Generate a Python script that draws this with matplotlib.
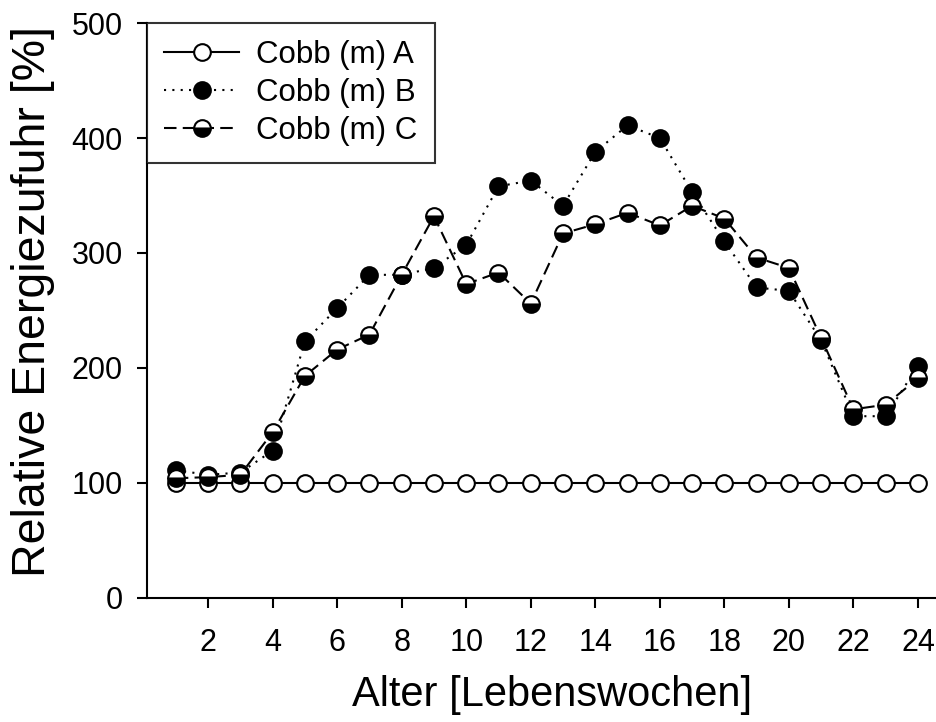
import matplotlib
matplotlib.use("Agg")
import matplotlib.pyplot as plt

plt.rcParams['font.family'] = ['Liberation Sans', 'DejaVu Sans']

weeks = list(range(1, 25))
cobb_a = [100] * 24
cobb_b = [111, 107, 109, 128, 223, 252, 281, 281, 287, 307, 358, 363,
          341, 388, 411, 400, 353, 310, 270, 267, 224, 158, 158, 202]
cobb_c = [104, 105, 107, 144, 193, 216, 229, 281, 332, 273, 283, 256,
          317, 325, 335, 324, 341, 330, 296, 287, 226, 164, 168, 191]

x_ticks = list(range(2, 25, 2))
y_ticks = [0, 100, 200, 300, 400, 500]

fig = plt.figure(figsize=(9.37, 7.22), dpi=100)
ax = fig.add_axes([0.157, 0.172, 0.843, 0.796])

ms = 12
mew = 1.5
lw = 1.5

ax.plot(weeks, cobb_a, color='black', lw=lw, linestyle='-',
        marker='o', ms=ms, mfc='white', mec='black', mew=mew,
        label='Cobb (m) A', zorder=3)
ax.plot(weeks, cobb_b, color='black', lw=lw, dashes=(1, 3),
        marker='o', ms=ms, mfc='black', mec='black', mew=mew,
        label='Cobb (m) B', zorder=4)
ax.plot(weeks, cobb_c, color='black', lw=lw, dashes=(6, 3),
        marker='o', ms=ms, mfc='black', mfcalt='white', fillstyle='bottom',
        mec='black', mew=mew, label='Cobb (m) C', zorder=5)

ax.set_xlim(0.11, 24.59)
ax.set_ylim(0, 500)
ax.set_xticks(x_ticks)
ax.set_yticks(y_ticks)

for side in ('top', 'right'):
    ax.spines[side].set_visible(False)
for side in ('left', 'bottom'):
    ax.spines[side].set_linewidth(1.5)

ax.tick_params(axis='both', direction='out', length=7.5, width=1.5,
               labelsize=22)
ax.tick_params(axis='x', pad=14)
ax.tick_params(axis='y', pad=10)

ax.set_xlabel('Alter [Lebenswochen]', fontsize=30)
ax.xaxis.set_label_coords(0.513, -0.135)
ax.set_ylabel('Relative Energiezufuhr [%]', fontsize=33.5)
ax.yaxis.set_label_coords(-0.117, 0.515)

leg = ax.legend(loc='upper left', bbox_to_anchor=(0, 1), borderaxespad=0,
                fontsize=22.5, frameon=True, fancybox=False,
                handlelength=2.4, handletextpad=0.55, labelspacing=0.25,
                borderpad=0.55)
leg.get_frame().set_edgecolor('black')
leg.get_frame().set_linewidth(1.5)

fig.savefig('out.png', dpi=100)
